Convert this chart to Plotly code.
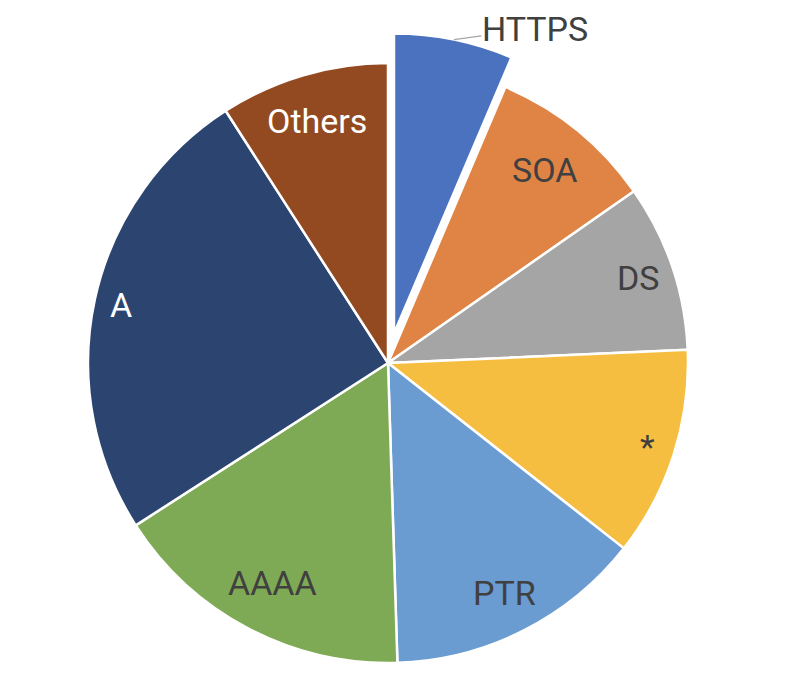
import math
import plotly.graph_objects as go

# ---- data ----
labels = ["HTTPS", "SOA", "DS", "*", "PTR", "AAAA", "A", "Others"]
values = [6.4, 8.9, 9.0, 11.3, 13.9, 16.4, 25.0, 9.1]

# ---- styles ----
colors = ["#4A72BE", "#E08446", "#A5A5A5", "#F5BE41", "#6A9BD1", "#7FAA55", "#2C4570", "#934A20"]
text_colors = ["#404040", "#404040", "#404040", "#404040", "#404040", "#404040", "#FFFFFF", "#FFFFFF"]
label_radius = [None, 0.83, 0.88, 0.91, 0.86, 0.83, 0.91, 0.84]
pulls = [0.1, 0, 0, 0, 0, 0, 0, 0]

# page body has an 8px margin; figure sized to fit the window
PAGE_OFF = 8
W, H = 784, 690
CX, CY, R = 388 - PAGE_OFF, 363 - PAGE_OFF, 300
max_pull = max(pulls)
half = R * (1 + max_pull)

fig = go.Figure(go.Pie(
    labels=labels,
    values=values,
    sort=False,
    direction="clockwise",
    rotation=0,
    pull=pulls,
    marker=dict(colors=colors, line=dict(color="white", width=2.5)),
    textinfo="none",
    hoverinfo="label+value",
    domain=dict(x=[(CX - half) / W, (CX + half) / W],
                y=[1 - (CY + half) / H, 1 - (CY - half) / H]),
))

font_family = "Roboto"
font_size = 34
total = sum(values)
cum = 0.0
annotations = []
for i, (lab, v) in enumerate(zip(labels, values)):
    mid = (cum + v / 2) / total * 2 * math.pi
    cum += v
    if label_radius[i] is None:
        # outside label with leader line (pulled slice)
        off = pulls[i] * R
        px = CX + off * math.sin(mid) + R * math.sin(mid)
        py = CY - off * math.cos(mid) - R * math.cos(mid)
        annotations.append(dict(
            x=px / W, y=1 - py / H, xref="paper", yref="paper",
            text=lab, showarrow=True, arrowhead=0, arrowwidth=1.2,
            arrowcolor="#A6A6A6", ax=81, ay=-11, borderpad=0,
            font=dict(family=font_family, size=font_size, color=text_colors[i]),
        ))
    else:
        f = label_radius[i]
        px = CX + f * R * math.sin(mid)
        py = CY - f * R * math.cos(mid)
        annotations.append(dict(
            x=px / W, y=1 - py / H, xref="paper", yref="paper",
            text=lab, showarrow=False, xanchor="center", yanchor="middle",
            font=dict(family=font_family, size=font_size, color=text_colors[i]),
        ))

fig.update_layout(
    width=W, height=H,
    margin=dict(l=0, r=0, t=0, b=0),
    paper_bgcolor="white",
    plot_bgcolor="white",
    showlegend=False,
    annotations=annotations,
)

fig.write_html("out.html")
